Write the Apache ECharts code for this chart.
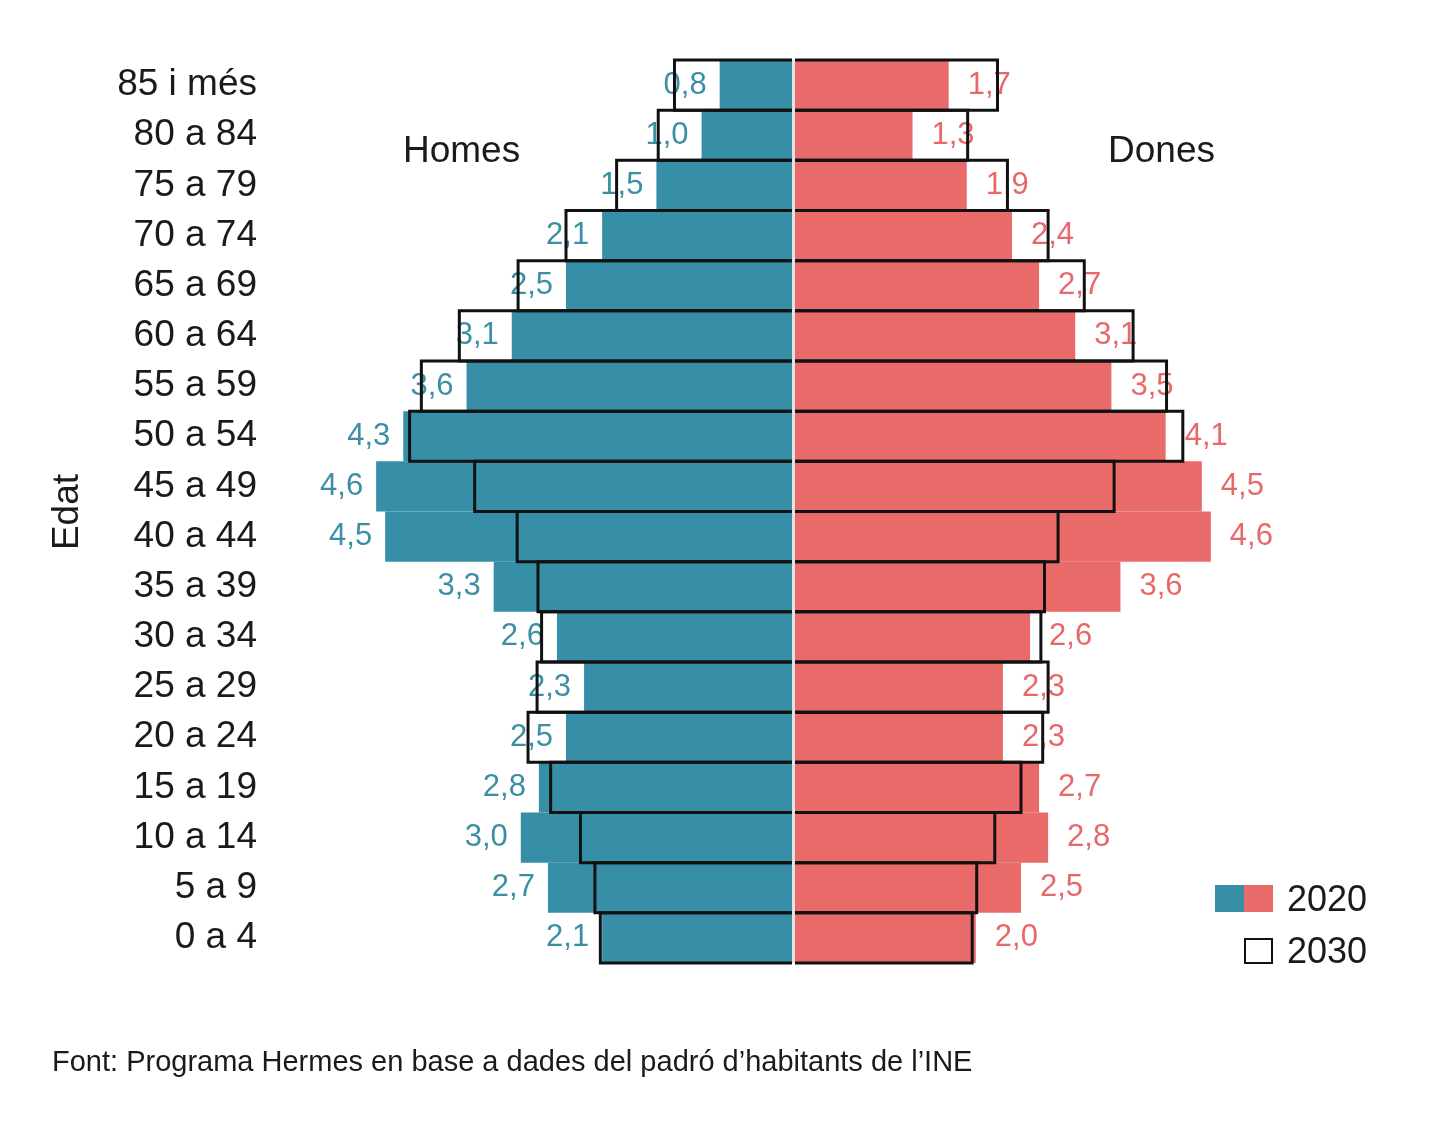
<!DOCTYPE html>
<html>
<head>
<meta charset="utf-8">
<title>Piràmide d'edats 2020 i 2030</title>
<script src="https://cdn.jsdelivr.net/npm/echarts@6/dist/echarts.min.js"></script>
<style>
  html, body { margin: 0; padding: 0; background: #fff; }
  #chart { width: 1440px; height: 1124px; }
</style>
</head>
<body>
<div id="chart"></div>
<script>
// grups d'edat, de baix a dalt
var edats = ['0 a 4', '5 a 9', '10 a 14', '15 a 19', '20 a 24', '25 a 29', '30 a 34', '35 a 39',
  '40 a 44', '45 a 49', '50 a 54', '55 a 59', '60 a 64', '65 a 69', '70 a 74', '75 a 79', '80 a 84', '85 i més'];

// % de població 2020 (barres plenes)
var homes2020 = [2.1, 2.7, 3.0, 2.8, 2.5, 2.3, 2.6, 3.3, 4.5, 4.6, 4.3, 3.6, 3.1, 2.5, 2.1, 1.5, 1.0, 0.8];
var dones2020 = [2.0, 2.5, 2.8, 2.7, 2.3, 2.3, 2.6, 3.6, 4.6, 4.5, 4.1, 3.5, 3.1, 2.7, 2.4, 1.9, 1.3, 1.7];

// projecció 2030 (contorn), llegit del gràfic
var homes2030 = [2.12, 2.18, 2.34, 2.67, 2.92, 2.82, 2.77, 2.81, 3.04, 3.51, 4.23, 4.1, 3.68, 3.03, 2.5, 1.94, 1.48, 1.3];
var dones2030 = [1.96, 2.01, 2.21, 2.5, 2.74, 2.8, 2.72, 2.76, 2.91, 3.53, 4.29, 4.11, 3.74, 3.2, 2.8, 2.35, 1.91, 2.24];

var FONT = '"Liberation Sans", Arial, sans-serif';
var BLAU = '#368ea7';
var VERMELL = '#e86a69';

var chart = echarts.init(document.getElementById('chart'));

function coma(p) {
  return p.value.toFixed(1).replace('.', ',');
}

// contorn de 3 costats (sense el costat del centre)
function contorn(params, api) {
  var v = api.value(0);
  var y = api.value(1);
  var p0 = api.coord([0, y]);
  var p1 = api.coord([v, y]);
  var h = api.size([0, 1])[1];
  return {
    type: 'polyline',
    shape: {
      points: [
        [p0[0], p0[1] - h / 2],
        [p1[0], p1[1] - h / 2],
        [p1[0], p1[1] + h / 2],
        [p0[0], p0[1] + h / 2]
      ]
    },
    style: { fill: null, stroke: '#111', lineWidth: 3 }
  };
}

var option = {
  animation: false,
  textStyle: { fontFamily: FONT },
  grid: [
    { left: 340, right: 648, top: 60, bottom: 161 },
    { left: 795, right: 193, top: 60, bottom: 161 }
  ],
  xAxis: [
    { gridIndex: 0, type: 'value', min: 0, max: 5, inverse: true, show: false },
    { gridIndex: 1, type: 'value', min: 0, max: 5, show: false }
  ],
  yAxis: [
    {
      gridIndex: 0,
      type: 'category',
      data: edats,
      axisLine: { show: false, onZero: false },
      axisTick: { show: false },
      axisLabel: { margin: 83, fontSize: 37, color: '#1a1a1a', fontFamily: FONT, padding: [4, 0, 0, 0] }
    },
    {
      gridIndex: 1,
      type: 'category',
      data: edats,
      show: false
    }
  ],
  series: [
    {
      name: 'Homes 2020',
      type: 'bar',
      xAxisIndex: 0,
      yAxisIndex: 0,
      data: homes2020,
      barWidth: '100%',
      itemStyle: { color: BLAU },
      label: {
        show: true,
        position: 'left',
        distance: 13,
        formatter: coma,
        fontSize: 31,
        color: '#3a8fa5',
        fontFamily: FONT,
        padding: [4, 0, 0, 0]
      }
    },
    {
      name: 'Dones 2020',
      type: 'bar',
      xAxisIndex: 1,
      yAxisIndex: 1,
      data: dones2020,
      barWidth: '100%',
      itemStyle: { color: VERMELL },
      label: {
        show: true,
        position: 'right',
        distance: 19,
        formatter: coma,
        fontSize: 31,
        color: '#e8686a',
        fontFamily: FONT,
        padding: [4, 0, 0, 0]
      }
    },
    {
      name: 'Homes 2030',
      type: 'custom',
      xAxisIndex: 0,
      yAxisIndex: 0,
      zlevel: 1,
      renderItem: contorn,
      encode: { x: 0, y: 1 },
      data: homes2030.map(function (v, i) { return [v, i]; })
    },
    {
      name: 'Dones 2030',
      type: 'custom',
      xAxisIndex: 1,
      yAxisIndex: 1,
      zlevel: 1,
      renderItem: contorn,
      encode: { x: 0, y: 1 },
      data: dones2030.map(function (v, i) { return [v, i]; })
    }
  ],
  graphic: [
    // línia del centre
    { type: 'rect', zlevel: 2, shape: { x: 792, y: 60, width: 3, height: 903 }, style: { fill: '#e2e2e2' } },
    { type: 'text', left: 403, top: 133, style: { text: 'Homes', fontSize: 37, fill: '#1a1a1a', fontFamily: FONT } },
    { type: 'text', left: 1108, top: 133, style: { text: 'Dones', fontSize: 37, fill: '#1a1a1a', fontFamily: FONT } },
    {
      type: 'text', x: 68, y: 512, rotation: Math.PI / 2,
      style: { text: 'Edat', fontSize: 37, fill: '#1a1a1a', fontFamily: FONT, align: 'center', verticalAlign: 'middle' }
    },
    // llegenda
    { type: 'rect', shape: { x: 1215, y: 885, width: 29, height: 27 }, style: { fill: BLAU } },
    { type: 'rect', shape: { x: 1244, y: 885, width: 29, height: 27 }, style: { fill: VERMELL } },
    { type: 'text', x: 1287, y: 901, style: { text: '2020', fontSize: 36, fill: '#1a1a1a', fontFamily: FONT, verticalAlign: 'middle' } },
    { type: 'rect', shape: { x: 1245, y: 939, width: 27, height: 24 }, style: { fill: 'none', stroke: '#111', lineWidth: 2 } },
    { type: 'text', x: 1287, y: 953, style: { text: '2030', fontSize: 36, fill: '#1a1a1a', fontFamily: FONT, verticalAlign: 'middle' } },
    {
      type: 'text', x: 52, y: 1063,
      style: { text: 'Font: Programa Hermes en base a dades del padró d’habitants de l’INE', fontSize: 29, fill: '#1a1a1a', fontFamily: FONT, verticalAlign: 'middle' }
    }
  ]
};

chart.setOption(option);
</script>
</body>
</html>
